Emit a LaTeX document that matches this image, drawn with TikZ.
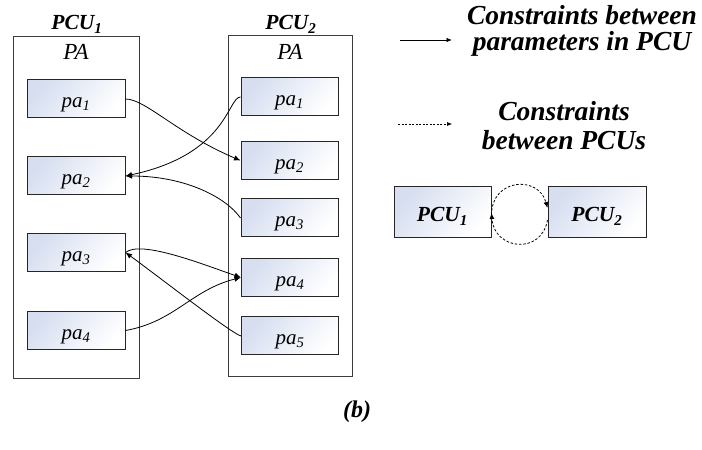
\documentclass[tikz,border=0pt]{standalone}
\usepackage{fontspec}
\setmainfont{Liberation Serif}
\usetikzlibrary{arrows.meta}

\definecolor{boxblue}{RGB}{214,222,240}
\definecolor{edgegray}{RGB}{60,60,60}

\tikzset{
  container/.style={draw=edgegray, line width=0.9pt, minimum width=126pt, minimum height=342pt, inner sep=0pt},
  parbox/.style={draw=black!85, line width=1pt, minimum width=98pt, minimum height=38pt, inner sep=0pt,
    text height=17.5pt, text depth=0pt,
    top color=boxblue, bottom color=white, shading angle=50,
    font=\fontsize{21}{23}\selectfont\itshape},
  pcubox/.style={parbox, minimum width=97pt, minimum height=51pt, text height=19pt,
    font=\fontsize{21.5}{24}\selectfont\bfseries\itshape},
  head/.style={font=\fontsize{21.5}{24}\selectfont\bfseries\itshape, inner sep=0pt, anchor=base},
  palabel/.style={font=\fontsize{23}{24}\selectfont\itshape, inner sep=0pt, anchor=base},
  link/.style={line width=0.8pt, -{Latex[length=6.5pt,width=5.5pt]}},
  dlink/.style={line width=0.8pt, dash pattern=on 2.5pt off 1.8pt, -{Latex[length=6pt,width=5pt]}},
}

\begin{document}
\begin{tikzpicture}[x=1pt,y=1pt]
\useasboundingbox (0,0) rectangle (702,450);

% two parameter containers
\node[container] (c1) at (76,243) {};
\node[container, minimum width=124pt, minimum height=341pt] (c2) at (290,244.5) {};
\node[head] (h1) at (77,420) {PCU\textsubscript{1}};
\node[head] (h2) at (291,420) {PCU\textsubscript{2}};
\node[palabel] (pa1lab) at (76,390) {PA};
\node[palabel] (pa2lab) at (290,390) {PA};

% parameters of PCU 1
\node[parbox] (l1) at (76,351) {pa\textsubscript{1}};
\node[parbox] (l2) at (76,274) {pa\textsubscript{2}};
\node[parbox] (l3) at (76,197.5) {pa\textsubscript{3}};
\node[parbox] (l4) at (76,119.5) {pa\textsubscript{4}};

% parameters of PCU 2
\node[parbox, minimum width=97pt] (r1) at (289.5,353) {pa\textsubscript{1}};
\node[parbox, minimum width=97pt] (r2) at (289.5,289.5) {pa\textsubscript{2}};
\node[parbox, minimum width=97pt] (r3) at (289.5,232) {pa\textsubscript{3}};
\node[parbox, minimum width=97pt] (r4) at (290,172.5) {pa\textsubscript{4}};
\node[parbox, minimum width=97pt] (r5) at (290,114) {pa\textsubscript{5}};

% constraints between parameters
\draw[link] (l1.east) to[out=0,in=157,out distance=20pt,in distance=70pt] (r2.west);
\draw[link] (r1.west) to[out=180,in=12,out distance=13pt,in distance=105pt] (l2.east);
\draw[link] (r3.west) to[out=125,in=0,out distance=25pt,in distance=60pt] (l2.east);
\draw[link] (l3.east) to[out=40,in=161,out distance=20pt,in distance=40pt] (r4.west);
\draw[link] (l4.east) to[out=10,in=194,out distance=50pt,in distance=51pt] (r4.west);
\draw[link] (r5.west) to[out=165,in=-36,out distance=10pt,in distance=40pt] (l3.east);

% legend
\coordinate (s0) at (400,410);
\coordinate (s1) at (452,410);
\draw[link, -{Latex[length=5.5pt,width=4.5pt]}] (s0) -- (s1);
\node[font=\fontsize{27.5}{26.5}\selectfont\bfseries\itshape, align=center] (t1) at (582,419)
  {Constraints between\\parameters in PCU};

\coordinate (d0) at (398,326);
\coordinate (d1) at (452,326);
\draw[dlink, line width=0.6pt, dash pattern=on 2pt off 1.5pt, -{Latex[length=5pt,width=4pt]}] (d0) -- (d1);
\node[font=\fontsize{27.5}{29}\selectfont\bfseries\itshape, align=center] (t2) at (564,324)
  {Constraints\\between PCUs};

\node[pcubox] (p1) at (442.5,237.5) {PCU\textsubscript{1}};
\node[pcubox, minimum width=98pt] (p2) at (597,237.5) {PCU\textsubscript{2}};
\draw[dlink] ([yshift=-2.5pt]p1.east) to[out=90,in=105,out distance=37pt,in distance=34pt] ([yshift=4.5pt]p2.west);
\draw[dlink] ([yshift=-7.5pt]p2.west) to[out=-100,in=-86,out distance=36pt,in distance=37pt] ([yshift=-0.5pt]p1.east);

\node[font=\fontsize{24}{26}\selectfont\bfseries\itshape] (cap) at (357,38) {(b)};
\end{tikzpicture}
\end{document}
